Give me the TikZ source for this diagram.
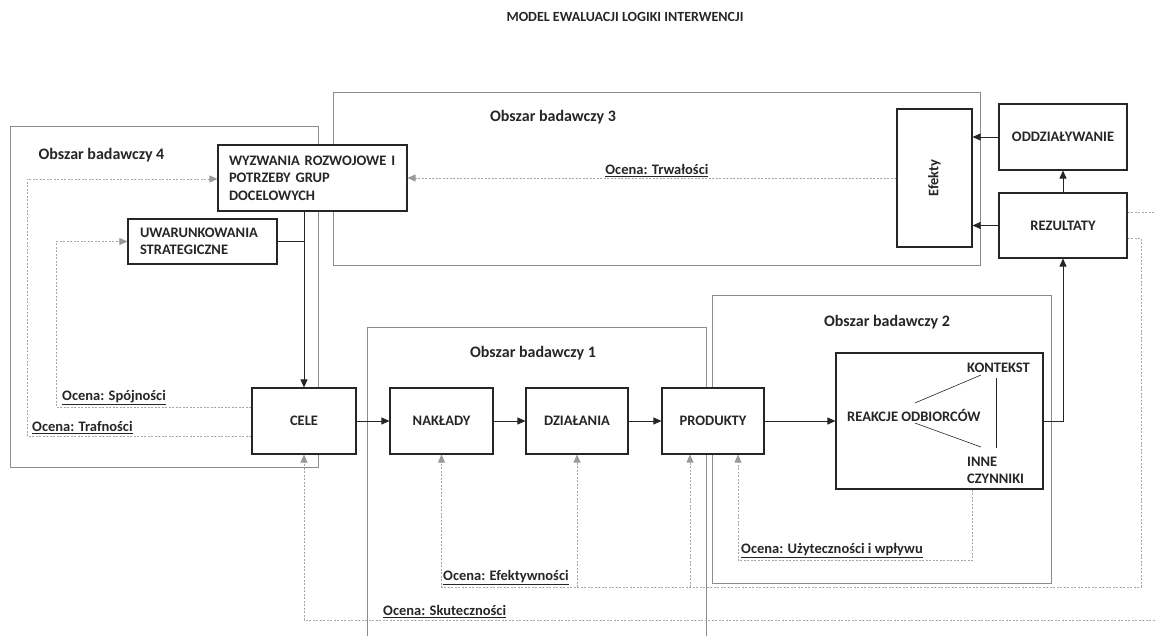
\documentclass[tikz,border=0pt]{standalone}
\usepackage{fontspec}
\setmainfont{Carlito}
\usetikzlibrary{arrows.meta,calc}

\begin{document}
\begin{tikzpicture}[x=1pt,y=-1pt,
  box/.style={draw=black!85,line width=1.1pt,fill=white,inner sep=0pt,
    font=\bfseries\fontsize{14.5}{17.5}\selectfont,text=black!85},
  area/.style={draw=black!45,line width=1pt},
  arealabel/.style={font=\bfseries\fontsize{16}{19}\selectfont,text=black!85},
  inlabel/.style={font=\bfseries\fontsize{14.5}{17}\selectfont,text=black!85,inner sep=1pt},
  flow/.style={draw=black!85,line width=0.8pt,-{Triangle[length=8pt,width=7pt]}},
  plain/.style={draw=black!85,line width=0.8pt},
  eval/.style={draw=black!35,line width=0.8pt,dash pattern=on 2pt off 1.5pt,
    -{Triangle[length=8pt,width=7pt,color=black!40]}},
  evaltxt/.style={font=\bfseries\fontsize{14.5}{16}\selectfont,text=black!85,inner sep=1pt}
]
\useasboundingbox (0,0) rectangle (1155,636);

\node[font=\bfseries\fontsize{14}{16}\selectfont,text=black!85] (title) at (625,17) {MODEL EWALUACJI LOGIKI INTERWENCJI};

% obszary badawcze
\draw[area] (10,127) rectangle (318,467);
\draw[area] (333,93) rectangle (980,265);
\draw[area] (712,295) rectangle (1051,583);
\draw[area] (367,640) |- (706,327) -- (706,640);
\node[arealabel,anchor=west] (lab4) at (35,155) {Obszar badawczy 4};
\node[arealabel] (lab3) at (553,117) {Obszar badawczy 3};
\node[arealabel] (lab1) at (533,353) {Obszar badawczy 1};
\node[arealabel] (lab2) at (887,322) {Obszar badawczy 2};

% bloki
\node[box,minimum width=189pt,minimum height=66pt,text width=167pt,align=left] (wyz) at (312.5,178)
  {WYZWANIA ROZWOJOWE I\\POTRZEBY GRUP\\DOCELOWYCH};
\node[box,minimum width=149pt,minimum height=45pt,text width=125pt,align=left] (uwa) at (202.5,241.5)
  {UWARUNKOWANIA\\STRATEGICZNE};
\node[box,minimum width=104pt,minimum height=66pt] (cele) at (304,421) {CELE};
\node[box,minimum width=103pt,minimum height=66pt] (nak) at (441.5,421) {NAKŁADY};
\node[box,minimum width=102pt,minimum height=66pt] (dzi) at (577,421) {DZIAŁANIA};
\node[box,minimum width=102pt,minimum height=66pt] (pro) at (713,421) {PRODUKTY};
\node[box,minimum width=207pt,minimum height=136pt] (rea) at (939.5,421) {};
\node[box,minimum width=128pt,minimum height=65pt] (rez) at (1063,225.5) {REZULTATY};
\node[box,minimum width=128pt,minimum height=66pt] (odd) at (1063,137) {ODDZIAŁYWANIE};
\node[box,minimum width=138pt,minimum height=75pt,rotate=90] (efe) at (934.5,178) {Efekty};

% wnetrze reakcji
\node[inlabel,anchor=west] (rodb) at (846,415) {REAKCJE ODBIORCÓW};
\node[inlabel,anchor=west] (kon) at (966,368) {KONTEKST};
\node[inlabel,anchor=west,align=left] (inn) at (966,470) {INNE\\CZYNNIKI};
\draw[plain,line width=0.6pt] ($(rodb.center)+(1,-12)$) -- ($(kon.west)+(15,7)$);
\draw[plain,line width=0.6pt] ($(rodb.center)+(1,8)$) -- ($(inn.west)+(15,-23)$);
\draw[plain,line width=0.6pt] ($(kon.west)+(30,10)$) -- ($(inn.west)+(30,-22)$);

% przeplyw
\draw[plain] (uwa.east) -- (uwa.east -| cele.north);
\draw[flow] (wyz.south -| cele.north) -- (cele.north);
\draw[flow] (cele) -- (nak);
\draw[flow] (nak) -- (dzi);
\draw[flow] (dzi) -- (pro);
\draw[flow] (pro) -- (rea);
\draw[flow] (rea.east) -| (rez.south);
\draw[flow] (rez.north) -- (odd.south);
\draw[flow] (odd.west) -- (odd.west -| efe.south);
\draw[flow] (rez.west) -- (rez.west -| efe.south);

% oceny
\coordinate (sk) at (1170,620);
\coordinate (ef) at (1141,587);
\draw[eval] (efe.north) -- (efe.north -| wyz.east)
  node[evaltxt,pos=0.49,above] (trw) {\underline{Ocena: Trwałości}};
\draw[eval] ([yshift=-15pt]cele.west) -- ++(-224,0) |- ([yshift=-1pt]wyz.west);
\draw[eval] ([yshift=14pt]cele.west) -- ++(-195,0) |- (uwa.west);
\node[evaltxt,anchor=south west] (tra) at (31,435) {\underline{Ocena: Trafności}};
\node[evaltxt,anchor=south west] (spo) at (61,406) {\underline{Ocena: Spójności}};
\draw[eval] ([yshift=13.5pt]rez.east) -| (sk) -| (cele.south);
\node[evaltxt,anchor=south west] (sku) at (382,619) {\underline{Ocena: Skuteczności}};
\draw[eval] ([yshift=-12.5pt]rez.east) -| (ef) -| (nak.south);
\draw[eval] (dzi.south |- ef) -- (dzi.south);
\draw[eval] ([xshift=-23pt]pro.south |- ef) -- ([xshift=-23pt]pro.south);
\node[evaltxt,anchor=south west] (efk) at (442,586) {\underline{Ocena: Efektywności}};
\draw[eval] ([xshift=32.5pt]rea.south) -- ++(0,71) -| ([xshift=25pt]pro.south);
\node[evaltxt,anchor=south west] (uzy) at (740,559) {\underline{Ocena: Użyteczności i wpływu}};
\end{tikzpicture}
\end{document}
